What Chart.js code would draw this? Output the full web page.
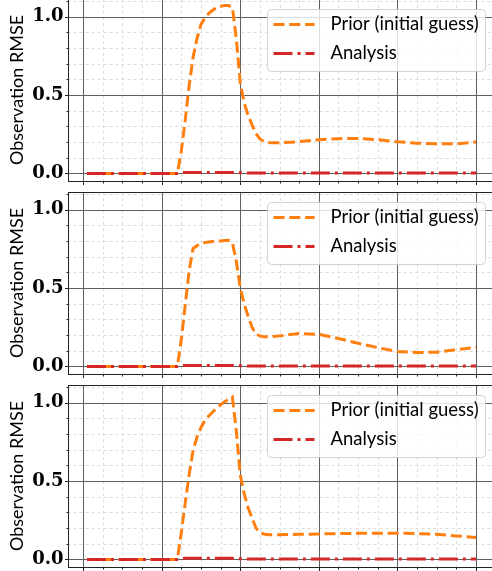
<!DOCTYPE html>
<html>
<head>
<meta charset="utf-8">
<script src="https://cdn.jsdelivr.net/npm/chart.js@4"></script>
<style>
  html, body { margin: 0; padding: 0; background: #fff; }
  #fig { position: relative; width: 492px; height: 571px; overflow: hidden; }
  #fig canvas { position: absolute; left: 0; }
</style>
</head>
<body>
<div id="fig">
  <canvas id="c1" width="500" height="190" style="top:-1px"></canvas>
  <canvas id="c2" width="500" height="190" style="top:192px"></canvas>
  <canvas id="c3" width="500" height="190" style="top:385px"></canvas>
</div>
<script>
// shared time steps (x)
const steps = [1, 5, 10, 15, 20, 24, 25, 26, 27, 28, 29, 30, 31, 32, 33, 34, 35, 36, 37, 38, 39, 40,
  41, 42, 43, 44, 45, 46, 47, 48, 50, 55, 60, 65, 70, 75, 80, 85, 90, 95, 100];

// top panel
const prior1 = [0, 0, 0, 0, 0, 0, 0.14, 0.34, 0.56, 0.74, 0.86, 0.95, 0.99, 1.02, 1.04, 1.06, 1.066, 1.07, 1.07, 1.06, 0.86, 0.58,
  0.45, 0.37, 0.31, 0.255, 0.22, 0.205, 0.198, 0.195, 0.195, 0.203, 0.215, 0.222, 0.223, 0.215, 0.202, 0.193, 0.189, 0.189, 0.2];
const analysis1 = [0, 0, 0, 0, 0, 0, 0.005, 0.006, 0.006, 0.006, 0.006, 0.006, 0.006, 0.006, 0.006, 0.006, 0.006, 0.006, 0.006, 0.006, 0.006, 0.005,
  0.004, 0.003, 0.003, 0.003, 0.003, 0.003, 0.003, 0.003, 0.003, 0.003, 0.003, 0.003, 0.003, 0.003, 0.003, 0.003, 0.003, 0.003, 0.003];

// middle panel
const prior2 = [0, 0, 0, 0, 0, 0, 0.17, 0.39, 0.61, 0.752, 0.77, 0.785, 0.79, 0.794, 0.797, 0.8, 0.8, 0.803, 0.805, 0.79, 0.67, 0.5,
  0.4, 0.32, 0.25, 0.205, 0.195, 0.19, 0.19, 0.19, 0.195, 0.21, 0.205, 0.178, 0.148, 0.12, 0.095, 0.089, 0.091, 0.107, 0.122];
const analysis2 = [0, 0, 0, 0, 0, 0, 0.005, 0.006, 0.006, 0.006, 0.006, 0.006, 0.006, 0.006, 0.006, 0.006, 0.006, 0.006, 0.006, 0.006, 0.006, 0.005,
  0.004, 0.003, 0.003, 0.003, 0.003, 0.003, 0.003, 0.003, 0.003, 0.003, 0.003, 0.003, 0.003, 0.003, 0.003, 0.003, 0.003, 0.003, 0.003];

// bottom panel
const prior3 = [0, 0, 0, 0, 0, 0, 0.17, 0.36, 0.54, 0.695, 0.78, 0.84, 0.886, 0.915, 0.94, 0.965, 0.985, 1.005, 1.02, 1.035, 0.82, 0.54,
  0.42, 0.33, 0.265, 0.2, 0.17, 0.162, 0.158, 0.157, 0.158, 0.16, 0.163, 0.165, 0.167, 0.167, 0.167, 0.165, 0.16, 0.15, 0.14];
const analysis3 = [0, 0, 0, 0, 0, 0, 0.005, 0.007, 0.007, 0.007, 0.007, 0.007, 0.007, 0.007, 0.007, 0.007, 0.007, 0.007, 0.007, 0.007, 0.006, 0.005,
  0.004, 0.003, 0.003, 0.003, 0.003, 0.003, 0.003, 0.003, 0.003, 0.003, 0.003, 0.003, 0.003, 0.003, 0.003, 0.003, 0.003, 0.003, 0.003];

const yTickValues = [0, 0.5, 1.0];
const yLabel = "Observation RMSE";
const priorLabel = "Prior (initial guess)";
const analysisLabel = "Analysis";

function toPoints(xs, ys) {
  return xs.map((x, i) => ({ x: x, y: ys[i] }));
}

// matplotlib-like grid, spines and ticks
const gridPlugin = {
  id: "mplGrid",
  beforeDatasetsDraw(chart) {
    const { ctx, chartArea: a, scales } = chart;
    const px = (v) => Math.round(scales.x.getPixelForValue(v)) + 0.5;
    const py = (v) => Math.round(scales.y.getPixelForValue(v)) + 0.5;
    ctx.save();
    ctx.strokeStyle = "#d4d4d4";
    ctx.lineWidth = 0.8;
    ctx.setLineDash([3, 3]);
    ctx.beginPath();
    for (let v = 0; v <= 100; v += 5) {
      if (v % 20 === 0) continue;
      ctx.moveTo(px(v), a.top); ctx.lineTo(px(v), a.bottom);
    }
    for (let k = 1; k <= 11; k++) {
      if (k % 5 === 0) continue;
      ctx.moveTo(a.left, py(k / 10)); ctx.lineTo(a.right, py(k / 10));
    }
    ctx.stroke();

    ctx.setLineDash([]);
    ctx.strokeStyle = "#5f5f5f";
    ctx.lineWidth = 1;
    ctx.beginPath();
    for (let v = 0; v <= 100; v += 20) {
      ctx.moveTo(px(v), a.top); ctx.lineTo(px(v), a.bottom);
    }
    yTickValues.forEach((v) => { ctx.moveTo(a.left, py(v)); ctx.lineTo(a.right, py(v)); });
    ctx.stroke();
    ctx.restore();
  },
  afterDatasetsDraw(chart) {
    const { ctx, chartArea: a, scales } = chart;
    const px = (v) => Math.round(scales.x.getPixelForValue(v)) + 0.5;
    const py = (v) => Math.round(scales.y.getPixelForValue(v)) + 0.5;
    const l = Math.round(a.left) + 0.5, t = Math.round(a.top) + 0.5;
    const r = Math.round(a.right) + 0.5, b = Math.round(a.bottom) + 0.5;
    ctx.save();
    ctx.strokeStyle = "#222";
    ctx.lineWidth = 1;
    ctx.strokeRect(l, t, r - l, b - t);
    ctx.beginPath();
    for (let v = 0; v <= 100; v += 5) {
      const len = v % 20 === 0 ? 3.5 : 2;
      ctx.moveTo(px(v), b); ctx.lineTo(px(v), b + len);
    }
    for (let k = 0; k <= 11; k++) {
      const len = k % 5 === 0 ? 3.5 : 2;
      ctx.moveTo(l, py(k / 10)); ctx.lineTo(l - len, py(k / 10));
    }
    ctx.stroke();
    ctx.restore();
  },
};

// legend box inside the plot, upper right
const legendPlugin = {
  id: "boxLegend",
  afterDraw(chart) {
    const { ctx, chartArea: a } = chart;
    const x0 = Math.round(a.left + 199.5) + 0.5, y0 = Math.round(a.top + 10) + 0.5;
    ctx.save();
    ctx.beginPath();
    ctx.roundRect(x0, y0, 218, 62, 4);
    ctx.fillStyle = "rgba(255,255,255,0.8)";
    ctx.fill();
    ctx.strokeStyle = "rgba(200,200,200,0.8)";
    ctx.lineWidth = 1;
    ctx.stroke();
    chart.data.datasets.forEach((ds, i) => {
      const yy = y0 + 15 + i * 29;
      ctx.beginPath();
      ctx.setLineDash(ds.borderDash);
      ctx.strokeStyle = ds.borderColor;
      ctx.lineWidth = ds.borderWidth;
      ctx.moveTo(x0 + 6, yy);
      ctx.lineTo(x0 + 47, yy);
      ctx.stroke();
      ctx.setLineDash([]);
      ctx.fillStyle = "#000";
      ctx.font = "18.5px Lato";
      ctx.textBaseline = "middle";
      ctx.fillText(ds.label, x0 + 63, yy);
    });
    ctx.restore();
  },
};

function makeChart(id, prior, analysis) {
  return new Chart(document.getElementById(id), {
    type: "line",
    data: {
      datasets: [
        {
          label: priorLabel,
          data: toPoints(steps, prior),
          borderColor: "#ff7f0e",
          borderWidth: 3,
          borderDash: [11, 4.8],
          pointRadius: 0,
          tension: 0,
          order: 1,
        },
        {
          label: analysisLabel,
          data: toPoints(steps, analysis),
          borderColor: "#d62728",
          borderWidth: 3,
          borderDash: [19, 5, 3, 5],
          pointRadius: 0,
          tension: 0,
          order: 0,
        },
      ],
    },
    options: {
      responsive: false,
      animation: false,
      devicePixelRatio: 1,
      layout: { padding: { top: 0, left: 0, right: 4.5, bottom: 0 } },
      plugins: { legend: { display: false }, tooltip: { enabled: false } },
      scales: {
        x: {
          type: "linear",
          min: -3.95,
          max: 104.95,
          grid: { display: false, drawTicks: false },
          border: { display: false },
          ticks: { display: false },
          afterFit: (s) => {
            s.height = 8;
            s.paddingLeft = 0;
            s.paddingRight = 0;
          },
        },
        y: {
          min: -0.048,
          max: 1.112,
          afterBuildTicks: (s) => { s.ticks = yTickValues.map((v) => ({ value: v })); },
          grid: { display: false, drawTicks: false },
          border: { display: false },
          ticks: {
            padding: 4,
            color: "#000",
            font: { family: "DejaVu Serif", weight: "bold", size: 18 },
            callback: (v) => Number(v).toFixed(1),
          },
          title: {
            display: true,
            text: yLabel,
            color: "#000",
            font: { family: "Lato", size: 18 },
            padding: { top: 6, bottom: 0 },
          },
          afterFit: (s) => {
            s.width = 67.5;
            s.paddingTop = 0;
            s.paddingBottom = 0;
          },
        },
      },
    },
    plugins: [gridPlugin, legendPlugin],
  });
}

makeChart("c1", prior1, analysis1);
makeChart("c2", prior2, analysis2);
makeChart("c3", prior3, analysis3);
</script>
</body>
</html>
